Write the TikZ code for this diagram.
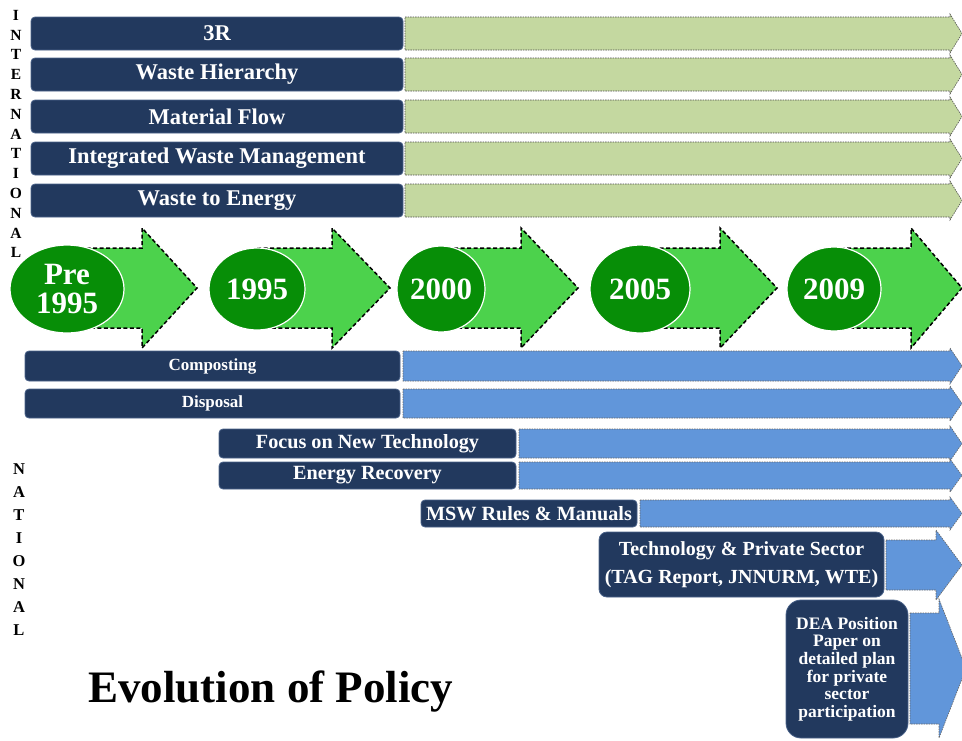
\documentclass[tikz,border=0pt]{standalone}
\usepackage{fontspec}
\setmainfont{Liberation Serif}
\usetikzlibrary{shapes.geometric}

\definecolor{navy}{HTML}{22395E}
\definecolor{navyedge}{HTML}{4A6289}
\definecolor{sage}{HTML}{C4D8A0}
\definecolor{skyblue}{HTML}{6196DA}
\definecolor{leaf}{HTML}{4CD24C}
\definecolor{forest}{HTML}{078E07}

% block arrow: style, x start, x head base, x tip, y top, y bottom, head overhang
\newcommand\flatarrow[7]{%
  \path[#1] (#2,#5) -- (#3,#5) -- (#3,{#5-#7}) -- (#4,{(#5+#6)/2})
    -- (#3,{#6+#7}) -- (#3,#6) -- (#2,#6) -- cycle;}

\begin{document}
\begin{tikzpicture}[x=1pt,y=-1pt,
  navybar/.style={rectangle, rounded corners=4pt, fill=navy, draw=navyedge,
    line width=0.8pt, text=white, inner sep=0pt},
  intbar/.style={navybar, minimum width=372pt, minimum height=33pt,
    font=\bfseries\fontsize{22.5}{24}\selectfont},
  natbar/.style={navybar, font=\bfseries\fontsize{20.2}{22}\selectfont},
  smallbar/.style={navybar, minimum width=375pt,
    font=\bfseries\fontsize{17}{18}\selectfont},
  sagearrow/.style={fill=sage, draw=black!70, line width=0.6pt,
    dash pattern=on 1.5pt off 1pt},
  bluearrow/.style={fill=skyblue, draw=black!60, line width=0.6pt,
    dash pattern=on 1.5pt off 1pt},
  timearrow/.style={fill=leaf, draw=black, line width=1.5pt,
    dash pattern=on 4pt off 2.5pt},
  yearball/.style={ellipse, fill=forest, draw=white, line width=1.2pt,
    inner sep=0pt, text=white, align=center,
    font=\bfseries\fontsize{31}{29}\selectfont},
  sideletters/.style={align=center, inner sep=0pt, font=\bfseries\fontsize{15.5}{19.8}\selectfont}
]
\useasboundingbox (0,0) rectangle (962,740);

% ---- international strands ----
\foreach \yt/\yb in {17/50, 58/91, 100/133, 142/175, 184/217}
  {\flatarrow{sagearrow}{405}{950}{962}{\yt}{\yb}{3}}

\node[intbar] (r3)  at (217,33.5)  {3R};
\node[intbar] (hier) at (217,74.5) {Waste Hierarchy};
\node[intbar] (mflow) at (217,116.5) {Material Flow};
\node[intbar] (iwm) at (217,158.5) {Integrated Waste Management};
\node[intbar] (wte) at (217,200.5) {Waste to Energy};

\node[sideletters] (intl) at (16,134)
  {I\\N\\T\\E\\R\\N\\A\\T\\I\\O\\N\\A\\L};

% ---- timeline ----
\flatarrow{timearrow}{67}{142}{197}{248}{328}{20}
\flatarrow{timearrow}{257}{332}{390}{248}{328}{20}
\flatarrow{timearrow}{441}{521}{578}{248}{328}{20}
\flatarrow{timearrow}{640}{720}{777}{248}{328}{20}
\flatarrow{timearrow}{834}{911}{962}{248}{328}{20}

\node[yearball, minimum width=114pt, minimum height=88pt] (pre) at (67,289) {Pre\\1995};
\node[yearball, minimum width=96pt, minimum height=82pt] (y95) at (257,289) {1995};
\node[yearball, minimum width=88pt, minimum height=86pt] (y00) at (441,289) {2000};
\node[yearball, minimum width=100pt, minimum height=88pt] (y05) at (640,289) {2005};
\node[yearball, minimum width=94pt, minimum height=84pt] (y09) at (834,289) {2009};

% ---- national strands ----
\flatarrow{bluearrow}{403}{950}{962}{351}{381}{3}
\flatarrow{bluearrow}{403}{950}{962}{389}{418}{3}
\flatarrow{bluearrow}{519}{950}{962}{429}{458}{3}
\flatarrow{bluearrow}{519}{950}{962}{462}{489}{3}
\flatarrow{bluearrow}{640}{950}{962}{500}{527}{3}
\flatarrow{bluearrow}{886}{936}{962}{540}{590}{10}
\flatarrow{bluearrow}{910}{939}{966}{613}{724}{14}

\node[smallbar, minimum height=30pt] (comp) at (212.5,366) {Composting};
\node[smallbar, minimum height=29pt] (disp) at (212.5,403.5) {Disposal};
\node[natbar, minimum width=297pt, minimum height=29pt] (newtech) at (367.5,443.5) {Focus on New Technology};
\node[natbar, minimum width=297pt, minimum height=27pt] (enrec) at (367.5,475.5) {Energy Recovery};
\node[natbar, minimum width=216pt, minimum height=27pt] (msw) at (529,513.5) {MSW Rules \& Manuals};
\node[natbar, rounded corners=8pt, align=center, minimum width=285pt, minimum height=65pt,
  font=\bfseries\fontsize{20}{28}\selectfont] (priv) at (741.5,564.5)
  {Technology \& Private Sector\\(TAG Report, JNNURM, WTE)};
\node[navybar, rounded corners=15pt, align=center, minimum width=122pt, minimum height=138pt,
  font=\bfseries\fontsize{17.5}{17.6}\selectfont] (dea) at (847,669)
  {DEA Position\\Paper on\\detailed plan\\for private\\sector\\participation};

\node[sideletters, font=\bfseries\fontsize{16.5}{23}\selectfont] (natl) at (19,549.5)
  {N\\A\\T\\I\\O\\N\\A\\L};

% ---- title ----
\node[anchor=base west, inner sep=0pt, font=\bfseries\fontsize{45}{50}\selectfont]
  (title) at (88,702) {Evolution of Policy};
\end{tikzpicture}
\end{document}
